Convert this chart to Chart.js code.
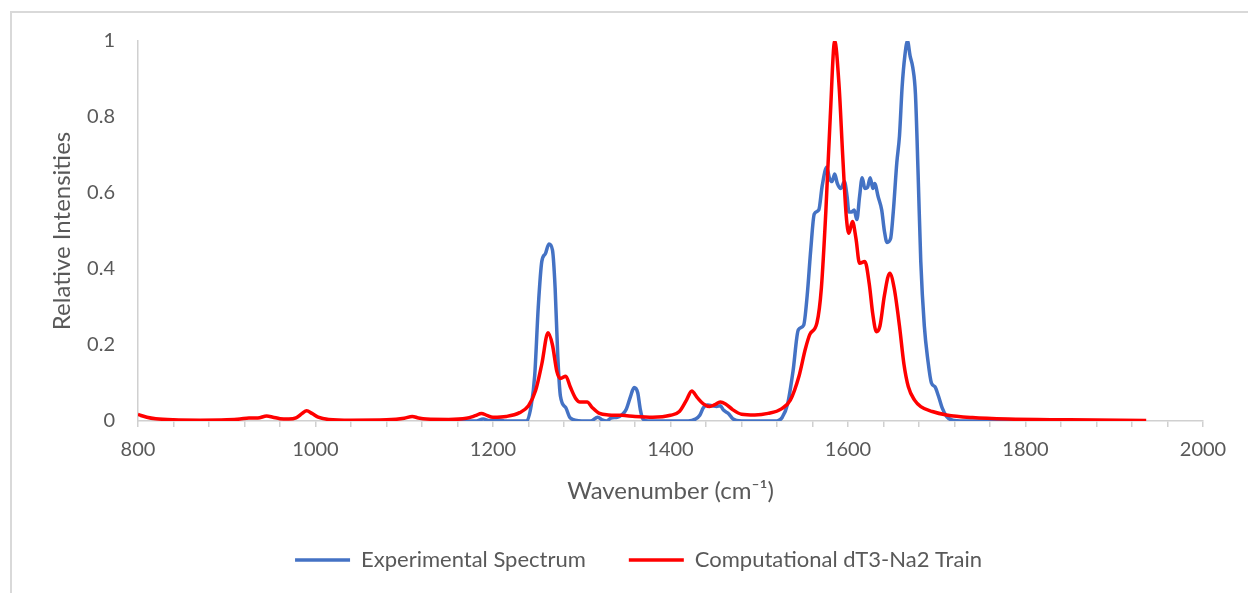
<!DOCTYPE html>
<html>
<head>
<meta charset="utf-8">
<script src="https://cdn.jsdelivr.net/npm/chart.js@4"></script>
<style>
  html, body { margin: 0; padding: 0; background: #fff; overflow: hidden; }
  #wrap { position: relative; width: 1248px; height: 593px; }
  #frame { position: absolute; left: 10px; top: 11px; width: 1300px; height: 640px; border: 2px solid #d9d9d9; box-sizing: border-box; }
  canvas { position: absolute; left: 0; top: 0; }
</style>
</head>
<body>
<div id="wrap">
  <div id="frame"></div>
  <canvas id="Chart1" width="1248" height="593"></canvas>
</div>
<script>
// wavenumber (cm-1), relative intensity
const expWave = [1135, 1180, 1189, 1196, 1205, 1215, 1238, 1243, 1247, 1251, 1255, 1259, 1263, 1267, 1270, 1273, 1276, 1282, 1287, 1300,
  1310, 1318, 1323, 1328, 1333, 1340, 1346, 1350, 1355, 1359, 1363, 1366, 1369, 1375, 1420, 1428, 1433, 1437, 1442, 1447,
  1452, 1456, 1460, 1466, 1470, 1480, 1520, 1526, 1532, 1538, 1544, 1550, 1554, 1558, 1562, 1567, 1571, 1576, 1579, 1582,
  1585, 1588, 1592, 1596, 1599, 1601, 1604, 1607, 1610, 1613, 1616, 1619, 1622, 1625, 1628, 1630, 1634, 1638, 1641, 1644,
  1648, 1651, 1655, 1658, 1661, 1664, 1667, 1670, 1673, 1676, 1679, 1682, 1686, 1690, 1694, 1698, 1702, 1706, 1711, 1718,
  1730, 1795];
const expInt = [0, 0, 0.005, 0.001, 0.003, 0, 0, 0.04, 0.12, 0.30, 0.42, 0.44, 0.466, 0.45, 0.35, 0.17, 0.065, 0.035, 0.008, 0,
  0, 0.01, 0.003, 0, 0.008, 0.010, 0.018, 0.030, 0.065, 0.088, 0.075, 0.030, 0.005, 0, 0, 0.005, 0.015, 0.035, 0.042, 0.040,
  0.038, 0.040, 0.028, 0.018, 0.006, 0, 0, 0.01, 0.045, 0.130, 0.240, 0.252, 0.330, 0.450, 0.545, 0.555, 0.620, 0.668, 0.640, 0.630,
  0.650, 0.625, 0.612, 0.630, 0.590, 0.550, 0.550, 0.555, 0.530, 0.590, 0.640, 0.612, 0.615, 0.640, 0.612, 0.625, 0.590, 0.555, 0.500, 0.470,
  0.480, 0.550, 0.680, 0.750, 0.880, 0.960, 1.0, 0.960, 0.930, 0.860, 0.650, 0.420, 0.250, 0.160, 0.100, 0.090, 0.065, 0.035, 0.012, 0.002,
  0, 0];

const compWave = [800, 810, 820, 840, 870, 900, 915, 925, 935, 945, 952, 960, 970, 978, 985, 990, 996, 1003, 1015, 1040,
  1080, 1100, 1109, 1116, 1125, 1150, 1170, 1180, 1187, 1193, 1200, 1215, 1230, 1240, 1248, 1255, 1262, 1267, 1272, 1276,
  1282, 1287, 1293, 1298, 1306, 1312, 1320, 1330, 1345, 1360, 1380, 1400, 1410, 1418, 1424, 1430, 1437, 1444, 1450, 1456,
  1462, 1470, 1480, 1495, 1510, 1525, 1535, 1545, 1552, 1557, 1565, 1570, 1575, 1580, 1585, 1590, 1594, 1598, 1601, 1605,
  1609, 1613, 1619, 1624, 1628, 1632, 1636, 1641, 1647, 1652, 1658, 1663, 1668, 1675, 1682, 1695, 1711, 1740, 1780, 1850,
  1936];
const compInt = [0.017, 0.010, 0.006, 0.003, 0.002, 0.003, 0.005, 0.008, 0.008, 0.013, 0.010, 0.006, 0.005, 0.008, 0.020, 0.027, 0.020, 0.010, 0.004, 0.002,
  0.003, 0.007, 0.012, 0.008, 0.005, 0.004, 0.007, 0.014, 0.020, 0.015, 0.010, 0.012, 0.022, 0.040, 0.080, 0.150, 0.232, 0.200, 0.130, 0.112,
  0.118, 0.090, 0.060, 0.050, 0.050, 0.035, 0.020, 0.016, 0.015, 0.012, 0.010, 0.015, 0.025, 0.055, 0.079, 0.062, 0.045, 0.038, 0.043, 0.050,
  0.045, 0.030, 0.018, 0.016, 0.020, 0.032, 0.055, 0.120, 0.190, 0.228, 0.258, 0.350, 0.550, 0.800, 1.0, 0.880, 0.700, 0.540, 0.494, 0.525,
  0.480, 0.415, 0.420, 0.360, 0.280, 0.235, 0.250, 0.330, 0.389, 0.350, 0.250, 0.150, 0.090, 0.055, 0.038, 0.025, 0.016, 0.009, 0.005, 0.003,
  0.001];

const seriesNames = ['Experimental Spectrum', 'Computational dT3-Na2 Train'];
const xTitle = 'Wavenumber (cm\u207B\u00B9)';
const yTitle = 'Relative Intensities';

function toPoints(xs, ys) {
  return xs.map((x, i) => ({ x: x, y: ys[i] }));
}

// Excel centres the legend on the whole frame, not the plot
const shiftLegend = {
  id: 'shiftLegend',
  afterLayout(chart) {
    chart.legend.left += 32;
    chart.legend.right += 32;
  }
};

Chart.defaults.font.family = 'Lato';
Chart.defaults.color = '#595959';

const ctx = document.getElementById('Chart1').getContext('2d');
const myChart = new Chart(ctx, {
  type: 'line',
  data: {
    datasets: [
      {
        label: seriesNames[0],
        data: toPoints(expWave, expInt),
        borderColor: '#4472C4',
        backgroundColor: '#4472C4',
        borderWidth: 3.5,
        pointRadius: 0,
        cubicInterpolationMode: 'monotone',
        order: 2
      },
      {
        label: seriesNames[1],
        data: toPoints(compWave, compInt),
        borderColor: '#FF0000',
        backgroundColor: '#FF0000',
        borderWidth: 3.5,
        pointRadius: 0,
        cubicInterpolationMode: 'monotone',
        order: 1
      }
    ]
  },
  options: {
    responsive: false,
    animation: false,
    layout: { padding: { left: 10, right: 45, top: 41, bottom: 12 } },
    plugins: {
      tooltip: { enabled: false },
      legend: {
        position: 'bottom',
        labels: {
          usePointStyle: true,
          pointStyle: 'line',
          pointStyleWidth: 55,
          padding: 43,
          font: { size: 22 },
          color: '#595959',
          sort: (a, b) => a.datasetIndex - b.datasetIndex
        }
      }
    },
    scales: {
      x: {
        type: 'linear',
        min: 800,
        max: 2000,
        afterFit: function(scale) { scale.height = 85; },
        ticks: {
          stepSize: 40,
          autoSkip: false,
          maxRotation: 0,
          padding: 11,
          font: { size: 20 },
          callback: function(value) {
            return value % 200 === 0 ? value : '';
          }
        },
        grid: {
          drawOnChartArea: false,
          tickLength: 6,
          color: '#d0d0d0',
          lineWidth: 1.5
        },
        border: { color: '#d0d0d0', width: 1.5 },
        title: {
          display: true,
          text: xTitle,
          font: { size: 24 },
          padding: { top: 0, bottom: 0 }
        }
      },
      y: {
        min: 0,
        max: 1,
        afterFit: function(scale) { scale.width = 128; },
        ticks: {
          stepSize: 0.2,
          padding: 23,
          font: { size: 20 },
          callback: function(value) {
            return String(Math.round(value * 10) / 10);
          }
        },
        grid: { display: false, drawTicks: false },
        border: { display: true, color: '#d0d0d0', width: 1.5 },
        title: {
          display: true,
          text: yTitle,
          font: { size: 24 },
          padding: { top: 38, bottom: 0 }
        }
      }
    }
  },
  plugins: [shiftLegend]
});
</script>
</body>
</html>
